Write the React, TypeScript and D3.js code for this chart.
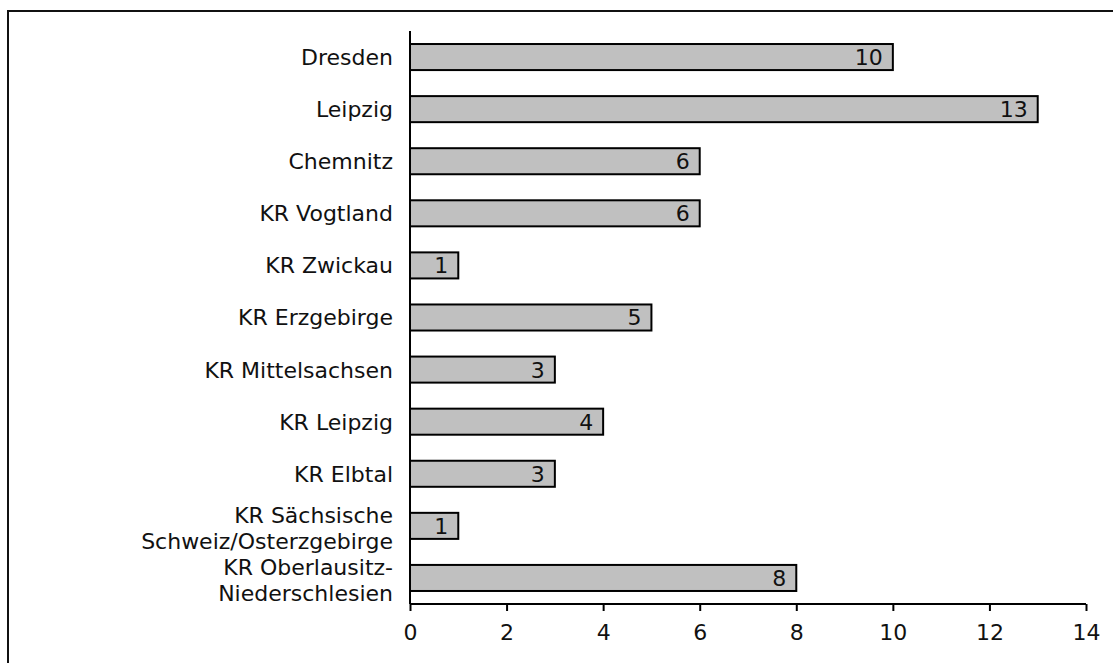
import React, { useRef, useEffect } from "react";
import * as d3 from "d3";

const categories = [
	"Dresden",
	"Leipzig",
	"Chemnitz",
	"KR Vogtland",
	"KR Zwickau",
	"KR Erzgebirge",
	"KR Mittelsachsen",
	"KR Leipzig",
	"KR Elbtal",
	"KR Sächsische\nSchweiz/Osterzgebirge",
	"KR Oberlausitz-\nNiederschlesien",
];
const values = [10, 13, 6, 6, 1, 5, 3, 4, 3, 1, 8];
const xTicks = [0, 2, 4, 6, 8, 10, 12, 14];

const FONT = "'DejaVu Sans', Verdana, sans-serif";

const App = () => {
	const svgRef = useRef<SVGSVGElement>(null);

	useEffect(() => {
		const width = 1113;
		const height = 663;
		const margin = { top: 31, right: 27, bottom: 59, left: 410 };

		const svg = d3.select(svgRef.current);
		svg.selectAll("*").remove();

		// outer frame (right and bottom edges fall outside the picture)
		svg.append("rect")
			.attr("x", 8)
			.attr("y", 11)
			.attr("width", 1200)
			.attr("height", 800)
			.attr("fill", "none")
			.attr("stroke", "#111")
			.attr("stroke-width", 2);

		const x = d3.scaleLinear()
			.domain([0, 14])
			.range([margin.left, width - margin.right]);

		const y = d3.scaleBand()
			.domain(categories)
			.range([margin.top, height - margin.bottom])
			.paddingInner(0.5)
			.paddingOuter(0.25);

		// bars
		svg.selectAll(".bar")
			.data(values)
			.enter()
			.append("rect")
			.attr("class", "bar")
			.attr("x", x(0))
			.attr("y", (d, i) => y(categories[i]))
			.attr("width", d => x(d) - x(0))
			.attr("height", y.bandwidth())
			.attr("fill", "#c0c0c0")
			.attr("stroke", "#000")
			.attr("stroke-width", 2);

		// value labels
		svg.selectAll(".val")
			.data(values)
			.enter()
			.append("text")
			.attr("class", "val")
			.attr("x", d => x(d) - 10)
			.attr("y", (d, i) => y(categories[i]) + y.bandwidth() / 2)
			.attr("dy", "0.36em")
			.attr("text-anchor", "end")
			.attr("font-family", FONT)
			.attr("font-size", 22)
			.attr("fill", "#111")
			.text(d => d);

		// x axis
		const xAxis = svg.append("g")
			.attr("transform", `translate(0,${height - margin.bottom})`)
			.call(d3.axisBottom(x).tickValues(xTicks).tickSize(7).tickPadding(13));
		xAxis.select(".domain").attr("stroke", "#000").attr("stroke-width", 2).attr("d", `M${x(0)},0H${x(14)}`);
		xAxis.selectAll(".tick line").attr("stroke", "#000").attr("stroke-width", 2);
		xAxis.selectAll(".tick text")
			.attr("font-family", FONT)
			.attr("font-size", 22)
			.attr("fill", "#111");

		// y axis line
		svg.append("line")
			.attr("x1", x(0))
			.attr("x2", x(0))
			.attr("y1", margin.top)
			.attr("y2", height - margin.bottom)
			.attr("stroke", "#000")
			.attr("stroke-width", 2);

		// category labels
		const labels = svg.selectAll(".cat")
			.data(categories)
			.enter()
			.append("text")
			.attr("class", "cat")
			.attr("text-anchor", "end")
			.attr("font-family", FONT)
			.attr("font-size", 22)
			.attr("fill", "#111");

		labels.each(function (d) {
			const lines = d.split("\n");
			const cy = y(d) + y.bandwidth() / 2 + (lines.length > 1 ? 2 : 0);
			const lh = 26;
			lines.forEach((ln, k) => {
				d3.select(this)
					.append("tspan")
					.attr("x", x(0) - 17)
					.attr("y", cy + (k - (lines.length - 1) / 2) * lh)
					.attr("dy", "0.36em")
					.text(ln);
			});
		});
	}, []);

	return (
		<svg
			ref={svgRef}
			width={1113}
			height={663}
			style={{ position: "absolute", left: 0, top: 0, background: "#fff" }}
		/>
	);
};

export default App;
